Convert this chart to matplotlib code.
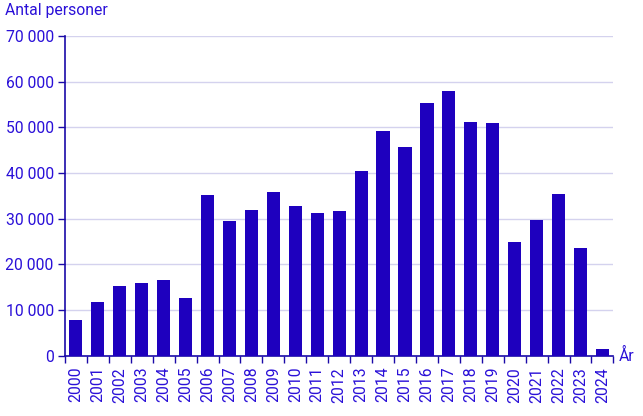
import matplotlib
matplotlib.use('Agg')
import matplotlib.pyplot as plt
from matplotlib.ticker import FuncFormatter

years = [str(y) for y in range(2000, 2025)]
persons = [7800, 11700, 15200, 15900, 16500, 12600, 35300, 29400, 32000, 35900,
           32700, 31200, 31600, 40500, 49300, 45800, 55400, 58000, 51300, 51000,
           24800, 29800, 35500, 23700, 1500]

bar_col = '#1e00be'
txt_col = '#2a10d8'
axis_col = '#1a0aa8'
grid_col = '#d4d2ee'
fs = 11.3

plt.rcParams['font.family'] = ['Roboto', 'DejaVu Sans']

fig = plt.figure(figsize=(6.43, 4.16), dpi=100)
ax = fig.add_axes([0.101, 0.145, 0.853, 0.768])

x = list(range(len(years)))
ax.bar(x, persons, width=0.6, color=bar_col, zorder=3)

ax.set_xlim(-0.5, len(years) - 0.5)
ax.set_ylim(0, 70000)
ax.set_yticks(range(0, 70001, 10000))
ax.yaxis.set_major_formatter(FuncFormatter(lambda v, p: f'{int(v):,}'.replace(',', ' ')))
ax.grid(axis='y', color=grid_col, linewidth=1, zorder=0)

# labels at bar centres, tick marks at the boundaries
ax.set_xticks(x)
ax.set_xticklabels(years, rotation=90)
ax.set_xticks([i - 0.5 for i in range(len(years) + 1)], minor=True)
ax.tick_params(axis='x', which='major', length=0, pad=8, labelsize=fs, labelcolor=txt_col)
ax.tick_params(axis='x', which='minor', length=5, width=1, color=axis_col, direction='out')
ax.tick_params(axis='y', length=5, width=1, color=axis_col, labelsize=fs, labelcolor=txt_col, pad=3)

for s in ['top', 'right']:
    ax.spines[s].set_visible(False)
for s in ['left', 'bottom']:
    ax.spines[s].set_color(axis_col)
    ax.spines[s].set_linewidth(1.2)

fig.text(0.008, 0.975, 'Antal personer', color=txt_col, fontsize=fs, va='center', ha='left')
fig.text(0.963, 0.145, 'År', color=txt_col, fontsize=fs, va='center', ha='left')

fig.savefig('out.png', dpi=100)
